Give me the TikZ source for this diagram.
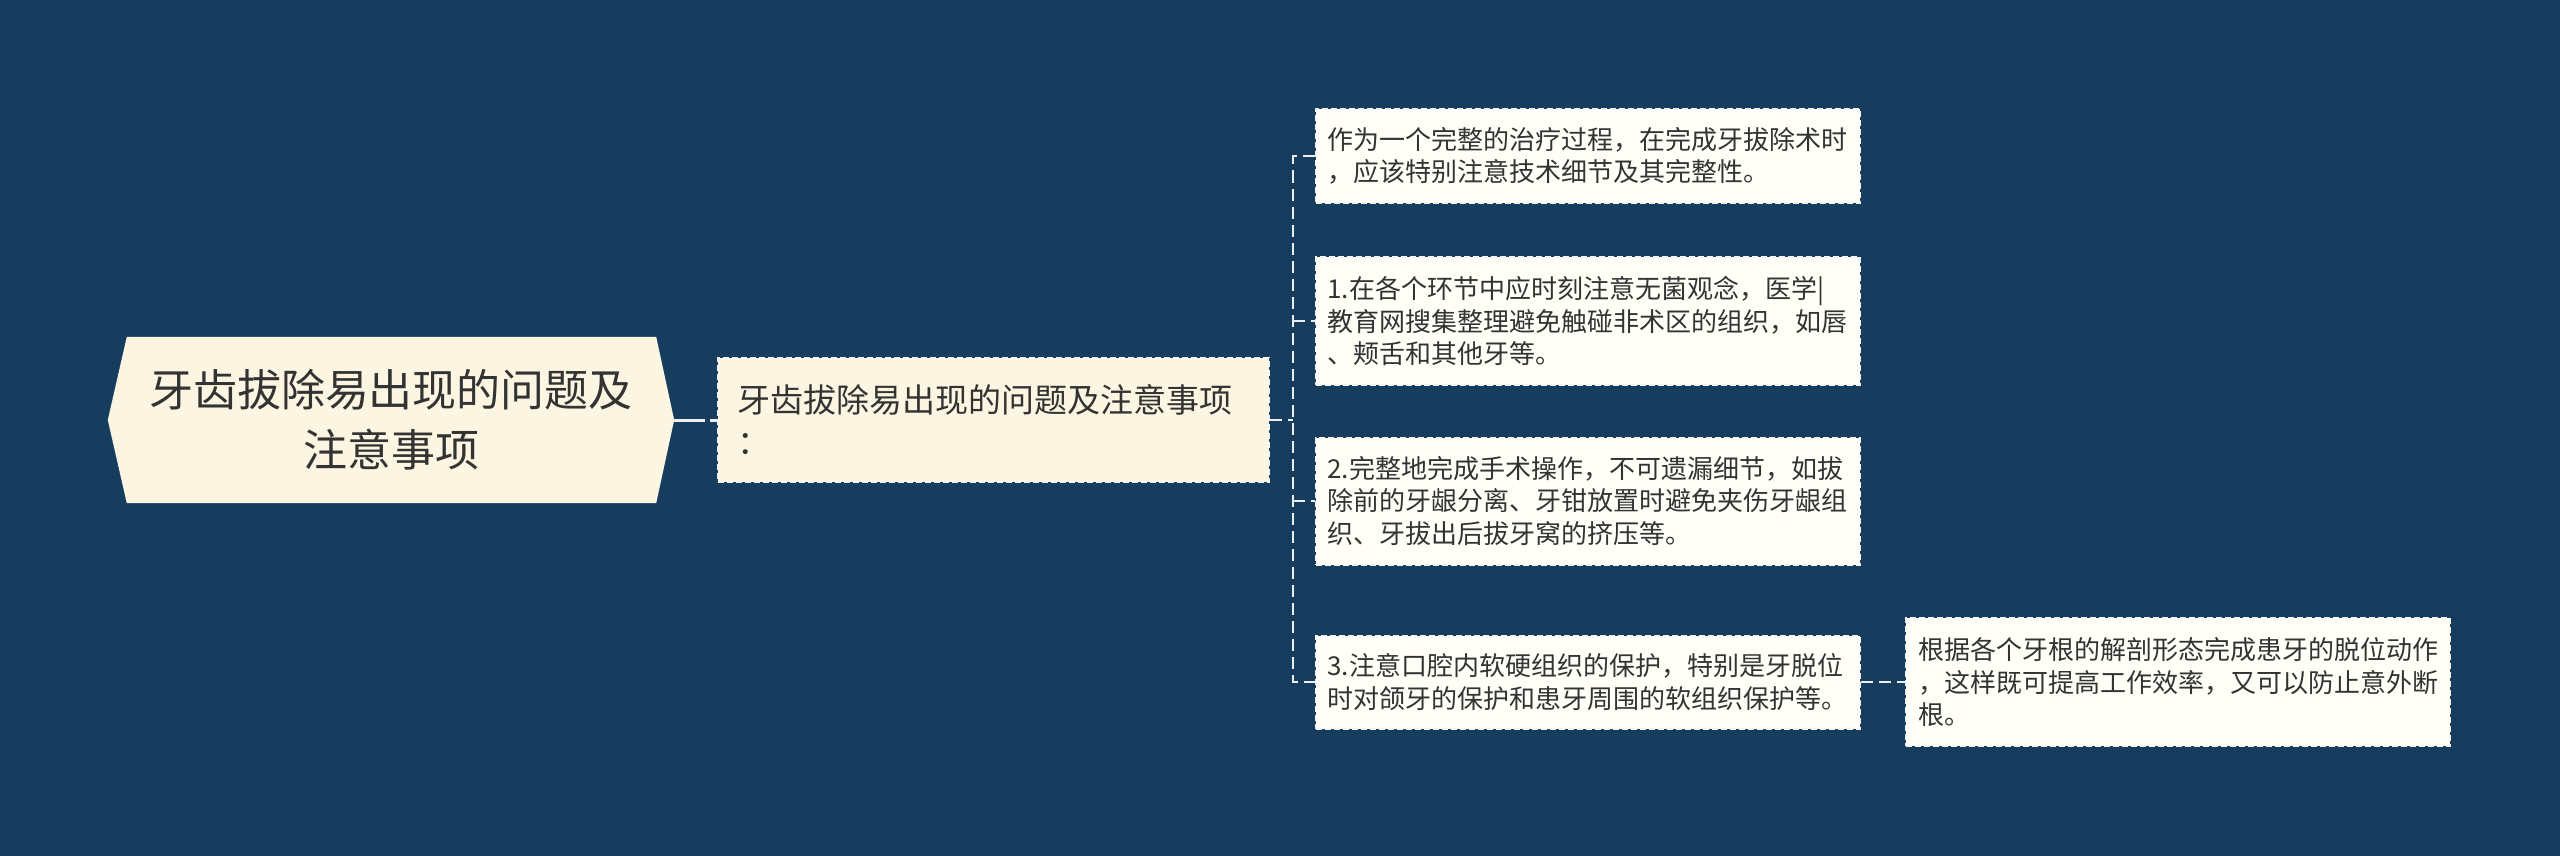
\documentclass[tikz,border=0pt]{standalone}
\usepackage{fontspec}
\setmainfont{Noto Sans CJK SC}
\usetikzlibrary{backgrounds}
\definecolor{bgcol}{HTML}{173D5E}
\definecolor{rootfill}{HTML}{FBF5E1}
\definecolor{midfill}{HTML}{FBF5E1}
\definecolor{leaffill}{HTML}{FFFEF7}
\definecolor{bordercol}{HTML}{F4F4F4}
\definecolor{linkcol}{HTML}{EDEDED}
\definecolor{textcol}{HTML}{333333}
\tikzset{
  leafbox/.style={draw=bordercol, line width=2pt, dash pattern=on 6pt off 3pt,
    fill=leaffill, text=textcol, align=left, text width=520pt, inner xsep=12pt,
    inner ysep=0pt, font=\fontsize{26}{32.5}\selectfont},
  midbox/.style={draw=bordercol, line width=2pt, dash pattern=on 6pt off 3pt,
    fill=midfill, text=textcol, align=left, text width=513pt, inner xsep=19pt,
    inner ysep=0pt, minimum height=124pt, font=\fontsize{33}{42}\selectfont},
  rootbox/.style={text=textcol, align=center, text width=540pt, inner sep=0pt,
    minimum width=566pt, minimum height=166pt, font=\fontsize{44}{60}\selectfont},
  link/.style={draw=linkcol, line width=2.2pt, dash pattern=on 12pt off 6pt},
  rootlink/.style={draw=linkcol, line width=3pt, dash pattern=on 31pt off 5pt}
}
\begin{document}
\begin{tikzpicture}[x=1pt,y=-1pt]
\useasboundingbox (0,0) rectangle (2560,856);
\begin{scope}[on background layer]
\fill[bgcol] (0,0) rectangle (2560,856);
\end{scope}

\node[rootbox] (root) at (391,420) {牙齿拔除易出现的问题及\\注意事项};
\begin{scope}[on background layer]
\fill[rootfill] (root.west) -- ([xshift=19pt]root.north west) -- ([xshift=-18pt]root.north east)
  -- (root.east) -- ([xshift=-18pt]root.south east) -- ([xshift=19pt]root.south west) -- cycle;
\end{scope}

\node[midbox] (mid) at (993.5,420) {牙齿拔除易出现的问题及注意事项\\：};

\node[leafbox, minimum height=94pt] (c1) at (1587.5,156)
  {作为一个完整的治疗过程，在完成牙拔除术时\\，应该特别注意技术细节及其完整性。};
\node[leafbox, minimum height=128pt] (c2) at (1587.5,321)
  {1.在各个环节中应时刻注意无菌观念，医学|\\教育网搜集整理避免触碰非术区的组织，如唇\\、颊舌和其他牙等。};
\node[leafbox, minimum height=127pt] (c3) at (1587.5,501)
  {2.完整地完成手术操作，不可遗漏细节，如拔\\除前的牙龈分离、牙钳放置时避免夹伤牙龈组\\织、牙拔出后拔牙窝的挤压等。};
\node[leafbox, minimum height=93pt] (c4) at (1587.5,682)
  {3.注意口腔内软硬组织的保护，特别是牙脱位\\时对颌牙的保护和患牙周围的软组织保护等。};
\node[leafbox, minimum height=128pt] (g1) at (2178,682)
  {根据各个牙根的解剖形态完成患牙的脱位动作\\，这样既可提高工作效率，又可以防止意外断\\根。};

\coordinate (trunk) at (1293,420);
\draw[rootlink] (root.east) -- (mid.west);
\draw[link] (mid.east) -- (trunk);
\draw[link] (c1.west) -- (c1.west -| trunk) -- (c4.west -| trunk) -- (c4.west);
\draw[link] (c2.west -| trunk) -- (c2.west);
\draw[link] (c3.west -| trunk) -- (c3.west);
\draw[link] (c4.east) -- (g1.west);
\end{tikzpicture}
\end{document}
